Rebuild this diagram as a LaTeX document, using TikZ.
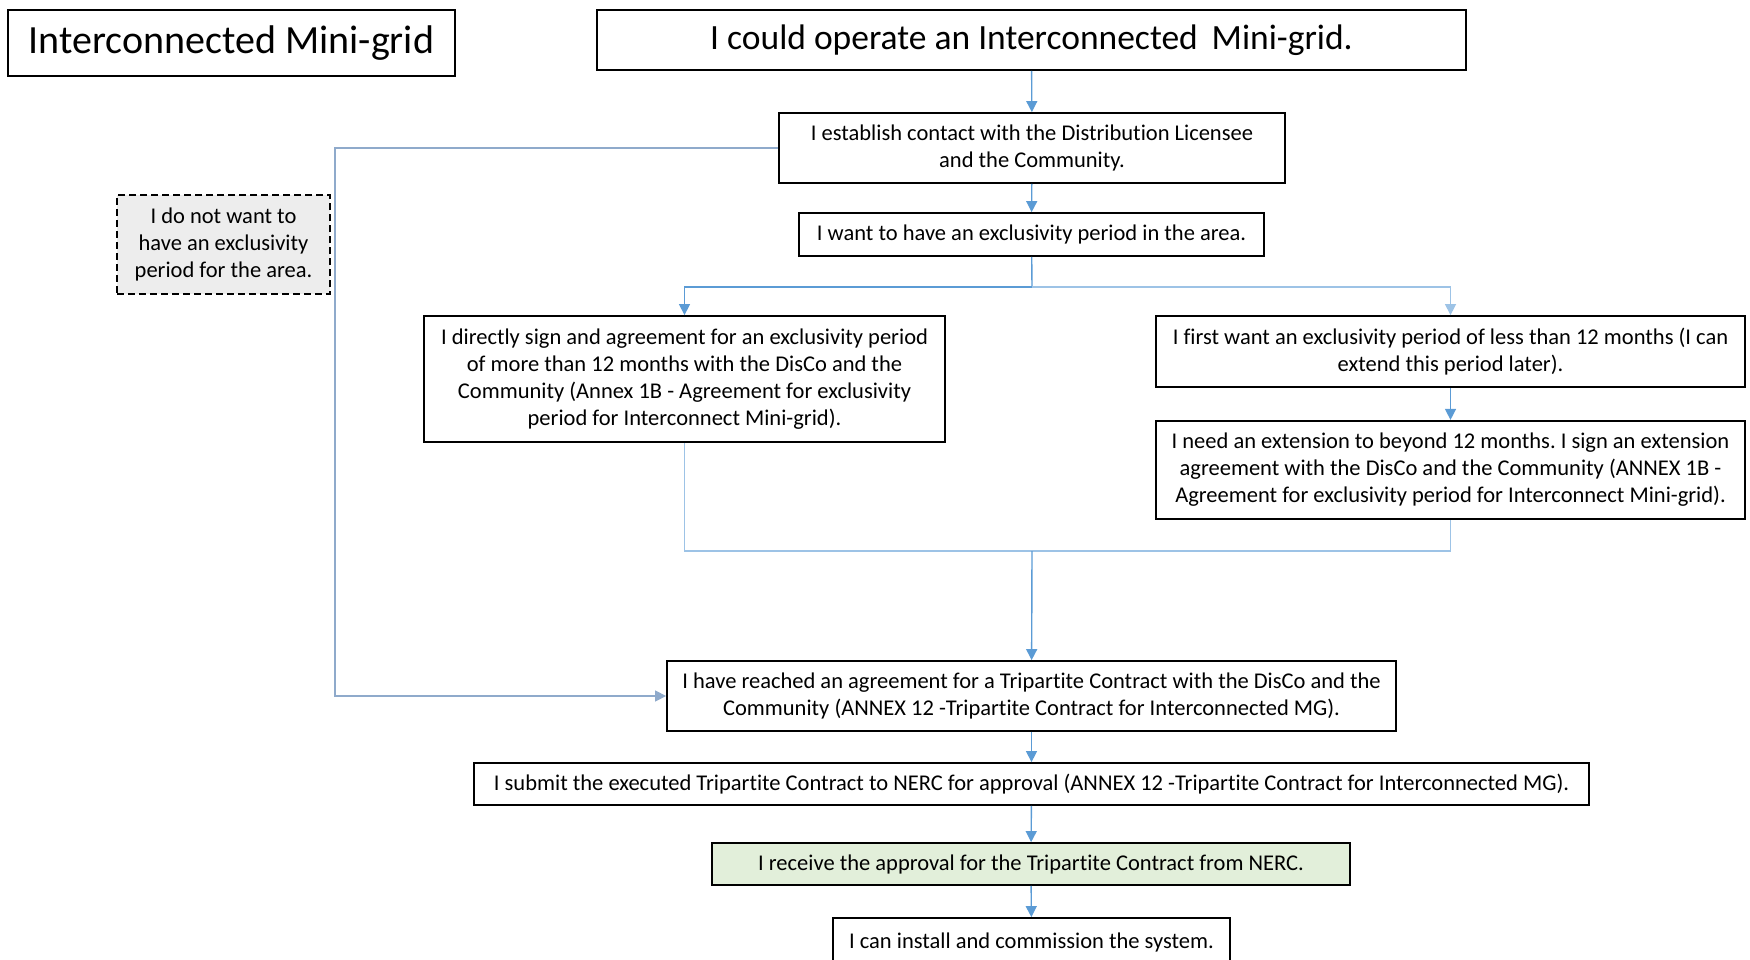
\documentclass[tikz,border=0pt]{standalone}
\usepackage{fontspec}
\setmainfont{Carlito}[Ligatures={NoCommon,NoRequired,NoContextual}]
\usepackage{xcolor}
\usepackage{tikz}
\usetikzlibrary{positioning,arrows.meta,calc}
\frenchspacing
\definecolor{linkblue}{HTML}{5B9BD5}
\definecolor{linklight}{HTML}{9DC3E6}
\definecolor{linkgray}{HTML}{8FAACB}
\definecolor{notegray}{HTML}{EDEDED}
\definecolor{okgreen}{HTML}{E2EFDA}
\tikzset{
    >={Triangle[width=11pt,length=11pt]},
    stepbox/.style={
        rectangle,
        draw=black, line width=1.8pt,
        align=center,
        inner sep=0pt,
        font={\fontsize{22.5pt}{27pt}\selectfont}
    },
    bigbox/.style={
        stepbox,
        font={\fontsize{35.5pt}{42pt}\selectfont}
    },
    line/.style={draw=linkblue, line width=1.4pt},
    arrowline/.style={line, ->},
}

\begin{document}
\begin{tikzpicture}[x=1pt,y=-1pt]
        \useasboundingbox (0,0) rectangle (1750,960);

        % Setup the style for the boxes
        \tikzset{note style/.style={stepbox, dash pattern=on 7pt off 4pt, fill=notegray},
                 done style/.style={stepbox, fill=okgreen}}

        \node[bigbox, minimum width=447pt, minimum height=66pt, font={\fontsize{40pt}{46pt}\selectfont}] (title) at (231.5,43) {Interconnected Mini-grid};
        \node[bigbox, minimum width=869pt, minimum height=60pt] (start) at (1031.5,40) {I could operate an Interconnected\, Mini-grid.};

        \node[stepbox, minimum width=506pt, minimum height=70pt] (contact) at (1032,148)
            {I establish contact with the Distribution Licensee\\and the Community.};
        \node[stepbox, minimum width=465pt, minimum height=43pt] (want) at (1031.5,234.5)
            {I want to have an exclusivity period in the area.};
        \node[note style, minimum width=213pt, minimum height=99pt] (nowant) at (223.5,244.5)
            {I do not want to\\have an exclusivity\\period for the area.};

        \node[stepbox, minimum width=521pt, minimum height=126pt] (direct) at (684.5,379)
            {I directly sign and agreement for an exclusivity period\\of more than 12 months with the DisCo and the\\Community (Annex 1B - Agreement for exclusivity\\period for Interconnect Mini-grid).};
        \node[stepbox, minimum width=589pt, minimum height=71pt] (first) at (1450.5,351.5)
            {I first want an exclusivity period of less than 12 months (I can\\extend this period later).};
        \node[stepbox, below=32pt of first, minimum width=589pt, minimum height=98pt] (extend)
            {I need an extension to beyond 12 months. I sign an extension\\agreement with the DisCo and the Community (ANNEX 1B -\\Agreement for exclusivity period for Interconnect Mini-grid).};

        \node[stepbox, minimum width=729pt, minimum height=70pt] (tripartite) at (1031.5,696)
            {I have reached an agreement for a Tripartite Contract with the DisCo and the\\Community (ANNEX 12 -Tripartite Contract for Interconnected MG).};
        \node[stepbox, minimum width=1115pt, minimum height=42pt] (submit) at (1031.5,784)
            {I submit the executed Tripartite Contract to NERC for approval (ANNEX 12 -Tripartite Contract for Interconnected MG).};
        \node[done style, minimum width=638pt, minimum height=42pt] (approval) at (1031,864)
            {I receive the approval for the Tripartite Contract from NERC.};
        \node[stepbox, minimum width=397pt, minimum height=48pt] (install) at (1031.5,942)
            {I can install and commission the system.};

        % Points where the lines split and join
        \coordinate (split) at (1032,287);
        \coordinate (merge) at (1032,551);
        \coordinate (leftx) at (335,0);

        \draw[arrowline] (start) -- (contact);
        \draw[arrowline] (contact) -- (want);
        \draw[line] (want) -- (split);
        \draw[arrowline] (split) -| (direct.north);
        \draw[arrowline, draw=linklight] (split) -| (first.north);
        \draw[arrowline] (first) -- (extend);

        \draw[line, draw=linklight] (direct.south) |- (merge) -| (extend.south);
        \draw[arrowline] (merge) -- (tripartite);

        \draw[arrowline, draw=linkgray] (contact.west) -- (contact.west -| leftx) |- (tripartite.west);

        \draw[arrowline] (tripartite) -- (submit);
        \draw[arrowline] (submit) -- (approval);
        \draw[arrowline] (approval) -- (install);

\end{tikzpicture}
\end{document}
